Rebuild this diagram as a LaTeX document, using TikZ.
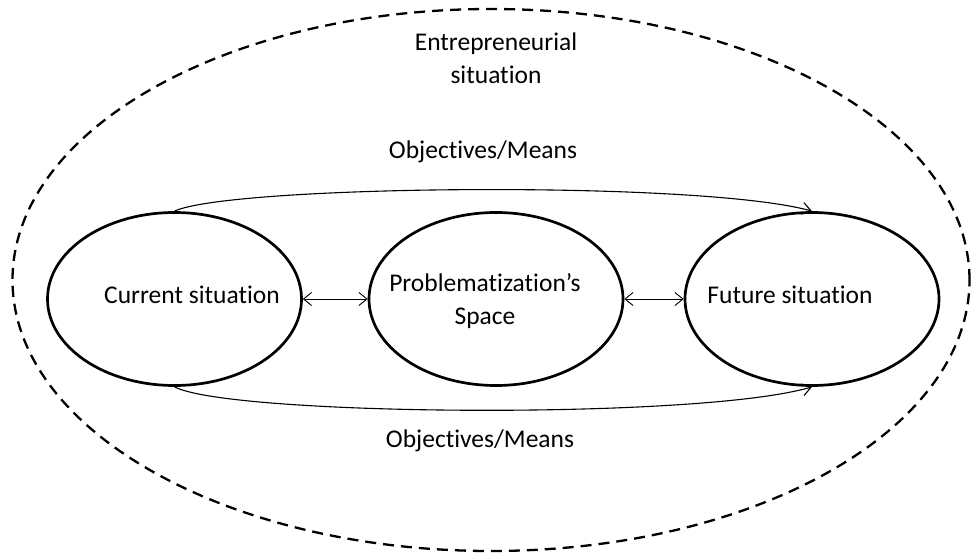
\documentclass[tikz,border=0pt]{standalone}
\usepackage{fontspec}
\setmainfont{Carlito}[Ligatures=NoCommon]
\usetikzlibrary{shapes.geometric,arrows.meta}
\begin{document}
\begin{tikzpicture}[x=1pt,y=-1pt,
  bubble/.style={draw,ellipse,line width=2.7pt,minimum width=254pt,minimum height=173pt,inner sep=0pt},
  outerring/.style={draw,ellipse,dash pattern=on 11pt off 7pt,line width=2.3pt,minimum width=957pt,minimum height=542pt,inner sep=0pt},
  lbl/.style={font=\fontsize{25.5}{33}\selectfont,inner sep=0pt,align=center},
  dbl/.style={line width=0.9pt,{Straight Barb[length=8pt,width=13pt]}-{Straight Barb[length=8pt,width=13pt]}},
  arc/.style={line width=1.1pt,-{Straight Barb[length=9pt,width=12pt]}}]
\useasboundingbox (0,0) rectangle (972,556);
\node[outerring] (outer) at (491,280) {};
\node[bubble] (L) at (174.5,299) {};
\node[bubble] (M) at (496,299) {};
\node[bubble] (R) at (812,299) {};
\node[lbl] (tE) at (496,58) {Entrepreneurial\\situation};
\node[lbl] (tO1) at (483,152) {Objectives/Means};
\node[lbl] (tO2) at (480,441) {Objectives/Means};
\node[lbl] (tC) at (192,295) {Current situation};
\node[lbl] (tP) at (485,301) {Problematization’s\\Space};
\node[lbl] (tF) at (790,295) {Future situation};
\draw[dbl] (L.east) -- (M.west);
\draw[dbl] (M.east) -- (R.west);
\draw[arc] (L.north) .. controls (230,185) and (700,180) .. (R.north);
\draw[arc] (L.south) .. controls (230,416) and (700,420) .. (R.south);
\end{tikzpicture}
\end{document}
